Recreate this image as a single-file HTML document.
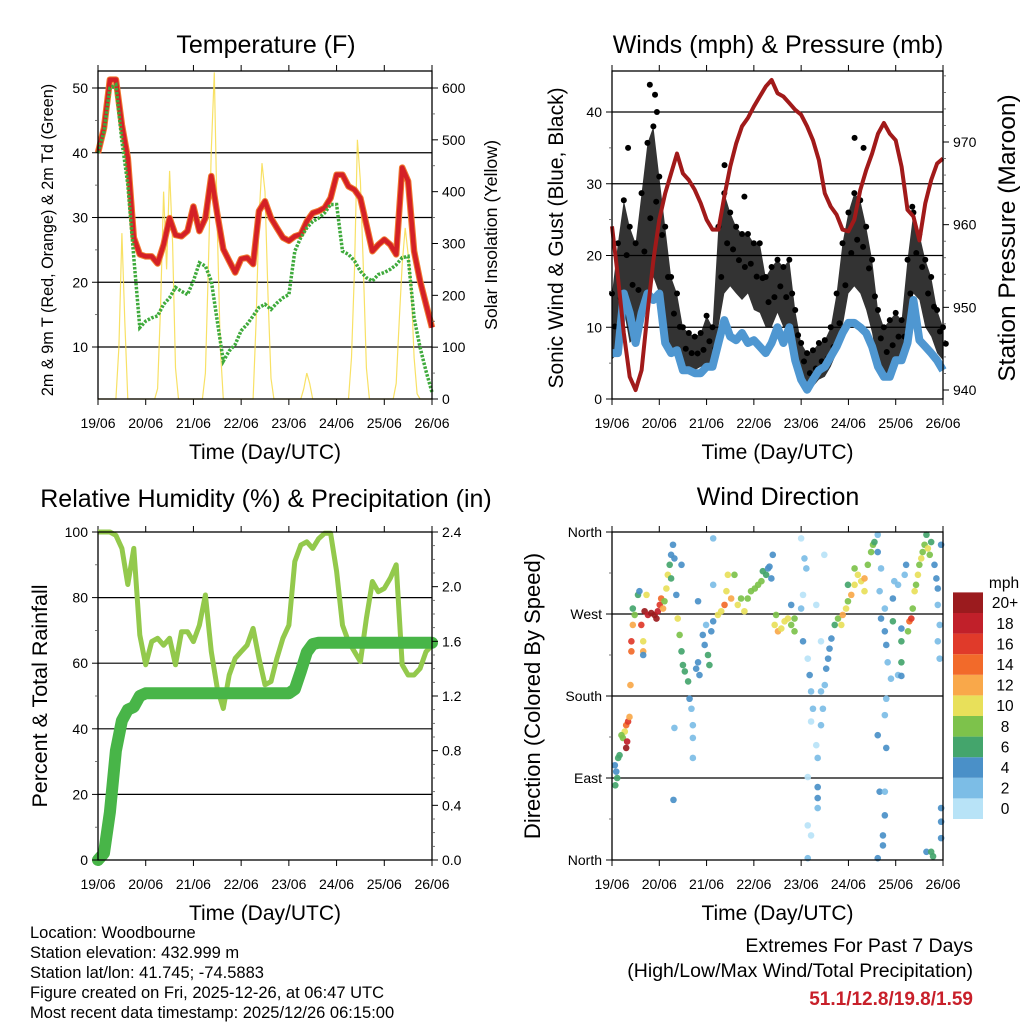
<!DOCTYPE html>
<html><head><meta charset="utf-8"><style>
html,body{margin:0;padding:0;background:#fff;}
svg{display:block;font-family:"Liberation Sans",Arial,sans-serif;}
</style></head><body>
<svg id="c" width="1024" height="1024" viewBox="0 0 1024 1024" xmlns="http://www.w3.org/2000/svg"></svg>
<script>
// ---------- data ----------
var dayLabels = ["19/06","20/06","21/06","22/06","23/06","24/06","25/06","26/06"];
// temperature (F), every 3 h
var tempT = [40,43.8,51.3,51.3,44.3,39.2,26.9,24.3,24,24,22.9,25.8,29.9,27.3,27.1,27.9,31.7,27.9,29.9,36.4,30.5,25.1,23.3,21.5,23.6,23.8,22.8,31,32.5,29.9,28.4,26.9,26.4,27.1,27.4,29.4,30.7,31,31.5,33,36.6,36.6,34.8,34.3,33,28.9,24.8,25.8,26.6,25.8,24.3,37.7,35.6,24.8,20.2,16.6,13];
var tempTd = [40,43.3,50,50.5,41.8,35.1,23.8,13,14,14.5,14.8,16.6,17.6,19.2,18.6,18.1,20.2,23,22.5,20.2,14,7.8,9.4,10.4,12.5,13.5,14.8,16.1,16.6,15.8,16.8,17.6,18.1,24.8,26.9,28.4,29.4,29.9,30.7,32,32,24.8,24.3,23.3,21.7,20.7,20.2,21.2,21.5,22,22.7,23.8,24,14.5,9.9,6.3,3];
// solar insolation, every 1.5 h
var solar = [0,0,0,0,0,0,0,100,320,150,0,0,0,0,0,0,0,0,0,0,20,180,400,250,440,300,60,0,0,0,0,0,0,0,0,0,50,250,480,630,330,100,0,0,0,0,0,0,0,0,0,0,0,150,350,455,400,200,40,0,0,0,0,0,0,0,0,0,0,20,50,30,0,0,0,0,0,0,0,0,0,0,0,0,0,80,250,500,420,250,60,0,0,0,0,0,0,0,0,0,30,150,260,330,280,220,80,10,0,0,0,0,0];
// winds, every 3 h
var pressure = [959.8,953.7,946.9,941.6,940,942.4,949.3,955.7,960.6,963.8,966.2,968.6,966.2,965.4,964.2,962.6,960.6,959.4,959.4,963.4,967,969.8,971.9,972.9,974.3,975.5,976.7,977.5,975.9,975.5,974.7,973.9,973.3,971.9,970.2,967.8,963.8,962.2,961.2,959.4,959.2,960.6,964.2,966.6,968.6,971,972.3,971,970.2,967,961.8,961,958.1,962.6,965.4,967.4,968];
var sonic = [6.4,6.4,14.7,12,7.8,12,14.7,13.8,14.7,7.8,6.4,6.8,4,4,3.6,3.6,4.5,4.5,7.8,11,8.7,8.2,9.2,7.8,8.2,7.3,6.4,7.8,10,7.8,10,5.4,2.7,1.3,2.7,4,4.5,5.9,7.3,9.2,10.6,10.6,10,9.2,7.3,4.5,3.1,3.1,5.4,5.4,7.8,13.8,8.2,7.3,6.4,5.4,4];
var gustLo = [5.5,6.4,12.4,7.8,8.7,12.4,14.7,17,14.7,10,6.8,5.4,4,3.6,4,4.5,4.5,4,10,14.7,15.7,14.7,13.8,14.7,12.4,12,10,10,12,10,10,5.4,2.7,0.8,1.7,2.7,3.1,4.5,6.4,10,14.7,15.7,14.7,12.4,9.2,4.5,3.1,4,5.4,6.4,10,14.7,13.8,10,8.7,6.4,5.4];
var gustHi = [14.7,21.7,27.7,24,21.7,28.7,35.7,38,31,24,17,14.7,10,9.2,8.7,9.2,11.6,10,24,28.7,26,24,23,23,21.7,21.7,17,18.4,19.4,18.4,19.4,12.4,7.8,6.4,6.8,7.8,8.2,10,14.7,21.7,26,28.7,27.7,24,19.4,12.4,10,11,12,11,19.4,26,23,19.4,17,12.4,10];
var gustPeakDay = [0.80,0.91,0.95,0.34,2.38,2.80,5.13,5.32,6.35];
var gustPeakVal = [43.8,42.4,40,35,32.6,28.2,36.4,35,26.8];
// humidity & precipitation, every 3 h
var rh = [100,100,100,99,95,84,95,68.6,59.5,66.6,67.6,65.5,67.6,59.5,69.6,69.6,66.6,71.6,80.8,63.5,52.3,46.2,56.4,61.5,63.5,65.5,70.6,61.5,53.4,54.4,61.5,67.6,71.6,91,96,97,95,98,99.6,99.6,88,71.6,66.6,63.5,60.5,73.7,84.9,81.8,82.8,85.9,90,59.5,56.4,56.4,58.4,63.5,65.5];
var precip = [0,0.05,0.35,0.8,1.02,1.1,1.12,1.2,1.22,1.22,1.22,1.22,1.22,1.22,1.22,1.22,1.22,1.22,1.22,1.22,1.22,1.22,1.22,1.22,1.22,1.22,1.22,1.22,1.22,1.22,1.22,1.22,1.22,1.25,1.38,1.52,1.58,1.59,1.59,1.59,1.59,1.59,1.59,1.59,1.59,1.59,1.59,1.59,1.59,1.59,1.59,1.59,1.59,1.59,1.59,1.59,1.59];
// wind direction scatter
var dirDay = [0.06,0.09,0.11,0.07,0.13,0.16,0.23,0.27,0.30,0.34,0.37,0.32,0.30,0.20,0.39,0.41,0.41,0.44,0.48,0.44,0.55,0.58,0.66,0.66,0.62,0.69,0.66,0.73,0.76,0.83,0.90,0.97,1.01,1.04,1.08,0.94,1.11,1.15,1.18,1.22,1.25,1.29,1.32,1.25,1.47,1.36,1.39,1.43,1.47,1.50,1.54,1.61,1.64,1.68,1.71,1.71,1.71,1.78,1.82,1.85,1.92,1.96,2.03,2.06,2.10,2.14,1.32,1.30,1.82,1.99,2.14,2.14,2.24,2.31,2.38,2.42,2.45,2.52,2.59,2.66,2.73,2.80,2.87,2.94,3.02,3.09,3.16,3.19,3.26,3.30,3.33,3.37,3.40,3.44,3.51,3.58,3.65,3.72,3.79,3.86,3.47,3.79,3.86,4.0,4.07,4.11,4.04,4.0,4.04,4.14,4.18,4.21,4.25,4.21,4.32,4.35,4.35,4.35,4.35,4.14,4.14,4.21,4.14,4.42,4.49,4.32,4.42,4.46,4.42,4.50,4.53,4.57,4.60,4.64,4.71,4.78,4.85,4.88,4.95,4.99,5.06,5.13,5.20,5.27,5.34,5.34,5.41,5.48,5.52,5.55,5.13,4.99,5.62,5.62,5.69,5.66,5.77,5.69,5.77,5.80,5.83,5.90,5.80,5.77,5.62,5.80,5.66,5.77,5.77,5.73,5.73,5.62,5.94,5.94,6.12,6.12,6.12,6.05,6.12,5.97,6.05,6.19,6.22,6.26,6.29,6.33,6.36,6.40,6.43,6.47,6.50,6.54,6.57,6.61,6.65,6.68,6.72,6.75,6.82,6.86,6.89,6.89,6.93,6.89,6.93,6.96,6.96,6.96,6.96,6.65,6.75,6.79];
var dirDeg = [104,97,90,82,112,115,134,141,148,152,157,130,123,137,192,229,240,258,269,276,291,295,229,240,258,273,225,291,269,271,269,273,280,287,276,265,284,298,313,324,335,346,331,309,324,291,265,247,229,214,207,196,177,166,148,134,112,210,217,203,247,236,225,214,251,262,145,66,284,258,353,302,269,273,280,295,313,287,313,280,287,273,287,295,298,302,306,317,313,320,322,309,335,258,251,254,262,265,258,251,269,280,265,353,331,320,291,276,240,221,203,185,166,152,126,112,80,68,57,91,38,27,2,240,335,280,148,166,185,192,210,221,232,243,258,265,258,269,276,284,291,302,313,306,309,295,324,338,346,349,320,302,357,338,320,295,276,265,251,236,217,199,177,159,137,123,75,75,49,27,16,2,262,287,254,240,217,203,202,306,302,313,324,251,262,265,276,295,302,313,324,331,338,346,357,342,335,349,324,309,298,280,258,240,221,346,57,42,24,9,9,4];
var dirSpd = [5,4,6,6,6,6,8,10,14,16,12,18,20,8,12,14,16,12,8,6,6,4,12,10,16,20,4,10,18,20,20,18,16,14,12,20,8,10,10,6,4,4,4,6,4,4,10,8,6,6,6,6,4,2,2,2,2,4,4,4,4,4,6,6,4,4,2,4,4,2,2,2,10,10,14,10,10,12,8,10,8,10,8,8,8,8,8,6,6,4,4,4,4,10,12,10,10,10,8,8,8,4,8,0,2,2,0,2,4,0,4,2,2,0,0,2,4,4,2,0,0,0,2,0,0,0,2,2,2,2,4,4,4,4,6,8,10,12,10,8,12,10,10,10,12,10,8,8,8,6,8,6,2,4,2,2,2,4,4,4,2,2,2,2,4,4,4,2,4,4,4,4,6,4,4,6,6,2,4,2,2,2,4,8,14,16,8,10,8,10,8,10,8,8,6,10,8,6,4,4,4,2,2,2,2,4,4,4,4,4,6,6];
var speedLevels = ["0","2","4","6","8","10","12","14","16","18","20+"];
var speedColors = ["#b8e3f7","#7cbde6","#4a90c8","#44a56c","#7dc24b","#e8e05a","#f9a84a","#f26a2a","#e03a2a","#c1202a","#9b1b1e"];

// ---------- helpers ----------
var NS="http://www.w3.org/2000/svg";
var svg=document.getElementById('c');
function el(tag,attrs,parent,text){var e=document.createElementNS(NS,tag);for(var k in attrs)e.setAttribute(k,attrs[k]);if(text!==undefined)e.textContent=text;(parent||svg).appendChild(e);return e;}
function lin(d0,d1,r0,r1){return function(v){return r0+(v-d0)/(d1-d0)*(r1-r0);};}
function txt(x,y,s,size,anchor,name,parent,extra){var t=el('text',{x:x,y:y,'font-size':size,'text-anchor':anchor||'middle',fill:'#000'},parent,s);if(extra)for(var k in extra)t.setAttribute(k,extra[k]);return t;}
function vtxt(x,y,s,size,name,parent){var t=el('text',{x:0,y:0,'font-size':size,'text-anchor':'middle',fill:'#000',transform:'translate('+x+','+y+') rotate(-90)'},parent,s);return t;}
function path(pts){return pts.map(function(p,i){return (i?'L':'M')+p[0].toFixed(1)+' '+p[1].toFixed(1);}).join(' ');}

function panel(o){
  var g=el('g',{});
  var x=lin(0,7,o.x0,o.x1);
  o.grid.forEach(function(v){var y=o.yl(v);var l=el('line',{x1:o.x0,x2:o.x1,y1:y,y2:y,stroke:'#000','stroke-width':1.2},g);});
  for(var d=0;d<=7;d++){var xx=x(d);
    el('line',{x1:xx,x2:xx,y1:o.y1,y2:o.y1+6,stroke:'#000','stroke-width':1},g);
    el('line',{x1:xx,x2:xx,y1:o.y0,y2:o.y0-6,stroke:'#000','stroke-width':1},g);
    txt(xx,o.y1+29,dayLabels[d],14,'middle','x-tick-label',g);}
  txt((o.x0+o.x1)/2,o.y1+60,'Time (Day/UTC)',21,'middle','x-axis-title',g);
  return {g:g,x:x};
}
function frame(g,o){var r=el('rect',{x:o.x0,y:o.y0,width:o.x1-o.x0,height:o.y1-o.y0,fill:'none',stroke:'#000','stroke-width':1.3},g);}
function yticks(g,scale,vals,labels,xpos,side,size,minor){
  vals.forEach(function(v,i){var y=scale(v);var dx=side<0?-6:6;
    el('line',{x1:xpos,x2:xpos+dx,y1:y,y2:y,stroke:'#000','stroke-width':1},g);
    txt(xpos+(side<0?-10:10),y+5,labels[i],size,side<0?'end':'start','y-tick-label',g);});
  (minor||[]).forEach(function(v){var y=scale(v);el('line',{x1:xpos,x2:xpos+(side<0?-3:3),y1:y,y2:y,stroke:'#555','stroke-width':0.8},g);});
}

// ========== Panel 1: Temperature ==========
(function(){
  var o={name:'temperature-panel',x0:98,x1:432,y0:71,y1:399};
  o.yl=lin(10,50,347,88);o.grid=[10,20,30,40,50];
  var P=panel(o),g=P.g,x=P.x,yr=lin(0,600,399,88);
  txt(266,53,'Temperature (F)',25,'middle','chart-title',g);
  var sp=solar.map(function(v,i){return [x(i*1.5/24),yr(v)];});
  var s=el('path',{d:path(sp),fill:'none',stroke:'#f7dc4a','stroke-width':1.2,opacity:0.85},g);
  var tp=tempT.map(function(v,i){return [x(i/8),o.yl(v)];});
  var t1=el('path',{d:path(tp),fill:'none',stroke:'#f07a30','stroke-width':6.5,'stroke-linejoin':'round'},g);
  var t2=el('path',{d:path(tp),fill:'none',stroke:'#d42026','stroke-width':4.5,'stroke-linejoin':'round'},g);
  var dp=tempTd.map(function(v,i){return [x(i/8),o.yl(v)];});
  var d1=el('path',{d:path(dp),fill:'none',stroke:'#3faa3c','stroke-width':3.5,'stroke-dasharray':'2.5 1.5'},g);
  frame(g,o);
  yticks(g,o.yl,[10,20,30,40,50],['10','20','30','40','50'],98,-1,14,[15,25,35,45]);
  yticks(g,yr,[0,100,200,300,400,500,600],['0','100','200','300','400','500','600'],432,1,14,[50,150,250,350,450,550]);
  vtxt(53,240,'2m & 9m T (Red, Orange) & 2m Td (Green)',16.2,'y-axis-title-left',g);
  vtxt(497,235,'Solar Insolation (Yellow)',17.8,'y-axis-title-right',g);
})();

// ========== Panel 2: Winds ==========
(function(){
  var o={name:'winds-panel',x0:612,x1:943,y0:71,y1:399};
  o.yl=lin(0,40,399,112);o.grid=[10,20,30,40];
  var P=panel(o),g=P.g,x=P.x,yr=lin(940,970,390,142);
  txt(778,53,'Winds (mph) & Pressure (mb)',25,'middle','chart-title',g);
  var top=gustHi.map(function(v,i){return [x(i/8),o.yl(v)];});
  var bot=gustLo.map(function(v,i){return [x(i/8),o.yl(v)];}).reverse();
  var band=el('path',{d:path(top.concat(bot))+' Z',fill:'#000',opacity:0.8},g);
  gustHi.forEach(function(v,i){var c=el('circle',{cx:x(i/8),cy:o.yl(v),r:3,fill:'#000'},g);});
  gustHi.forEach(function(v,i){var c=el('circle',{cx:x(i/8+0.06),cy:o.yl((v+gustLo[i])/2),r:3,fill:'#000'},g);});
  gustPeakDay.forEach(function(d,i){var c=el('circle',{cx:x(d),cy:o.yl(gustPeakVal[i]),r:3,fill:'#000'},g);});
  var bp=sonic.map(function(v,i){return [x(i/8),o.yl(v)];});
  var b=el('path',{d:path(bp),fill:'none',stroke:'#4f97d1','stroke-width':8,'stroke-linejoin':'round'},g);
  var pp=pressure.map(function(v,i){return [x(i/8),yr(v)];});
  var p=el('path',{d:path(pp),fill:'none',stroke:'#a11a1a','stroke-width':4,'stroke-linejoin':'round'},g);
  frame(g,o);
  yticks(g,o.yl,[0,10,20,30,40],['0','10','20','30','40'],612,-1,14,[5,15,25,35]);
  yticks(g,yr,[940,950,960,970],['940','950','960','970'],943,1,14,[942,944,946,948,952,954,956,958,962,964,966,968,972,974,976,978]);
  vtxt(563,238,'Sonic Wind & Gust (Blue, Black)',21,'y-axis-title-left',g);
  vtxt(1015,238,'Station Pressure (Maroon)',24.5,'y-axis-title-right',g);
})();

// ========== Panel 3: RH & precipitation ==========
(function(){
  var o={name:'humidity-panel',x0:98,x1:432,y0:532,y1:860};
  o.yl=lin(0,100,860,532);o.grid=[20,40,60,80];
  var P=panel(o),g=P.g,x=P.x,yr=lin(0,2.4,860,532);
  txt(266,507,'Relative Humidity (%) & Precipitation (in)',25,'middle','chart-title',g);
  var rp=rh.map(function(v,i){return [x(i/8),o.yl(v)];});
  var r=el('path',{d:path(rp),fill:'none',stroke:'#93c94c','stroke-width':5,'stroke-linejoin':'round'},g);
  var pp=precip.map(function(v,i){return [x(i/8),yr(v)];});
  var p=el('path',{d:path(pp),fill:'none',stroke:'#48b548','stroke-width':12,'stroke-linejoin':'round','stroke-linecap':'round'},g);
  frame(g,o);
  yticks(g,o.yl,[0,20,40,60,80,100],['0','20','40','60','80','100'],98,-1,14,[10,30,50,70,90]);
  yticks(g,yr,[0,0.4,0.8,1.2,1.6,2.0,2.4],['0.0','0.4','0.8','1.2','1.6','2.0','2.4'],432,1,14,[0.1,0.2,0.3,0.5,0.6,0.7,0.9,1.0,1.1,1.3,1.4,1.5,1.7,1.8,1.9,2.1,2.2,2.3]);
  vtxt(47,696,'Percent & Total Rainfall',21.5,'y-axis-title-left',g);
})();

// ========== Panel 4: Wind direction ==========
(function(){
  var o={name:'wind-direction-panel',x0:612,x1:943,y0:532,y1:860};
  o.yl=lin(0,360,860,532);o.grid=[90,180,270];
  var P=panel(o),g=P.g,x=P.x;
  txt(778,505,'Wind Direction',25,'middle','chart-title',g);
  dirDay.forEach(function(d,i){var k=Math.min(10,Math.floor(dirSpd[i]/2));
    var c=el('circle',{cx:x(d),cy:o.yl(dirDeg[i]),r:3.3,fill:speedColors[k],opacity:0.92},g);
    
    });
  frame(g,o);
  yticks(g,o.yl,[0,90,180,270,360],['North','East','South','West','North'],612,-1,14,[45,135,225,315]);
  vtxt(540,696,'Direction (Colored By Speed)',22,'y-axis-title-left',g);
  var cb=el('g',{},g);
  txt(1004,588,'mph',15.5,'middle','colorbar-title',cb);
  var h=20.6;
  speedLevels.forEach(function(l,i){var y=819-(i+1)*h;
    var r=el('rect',{x:953,y:y,width:30,height:h,fill:speedColors[i]},cb);
    txt(1005,y+h/2+5.5,l,15.5,'middle','colorbar-label',cb);});
})();

// ========== footer ==========
(function(){
  var g=el('g',{});
  var lines=['Location: Woodbourne','Station elevation: 432.999 m','Station lat/lon: 41.745; -74.5883','Figure created on Fri, 2025-12-26, at 06:47 UTC','Most recent data timestamp: 2025/12/26 06:15:00'];
  lines.forEach(function(s,i){txt(30,938+i*20,s,16.5,'start','station-info-line',g);});
  var g2=el('g',{});
  txt(973,952,'Extremes For Past 7 Days',19.5,'end','extremes-title',g2);
  txt(973,977,'(High/Low/Max Wind/Total Precipitation)',19.5,'end','extremes-subtitle',g2);
  txt(973,1005,'51.1/12.8/19.8/1.59',19,'end','extremes-values',g2,{fill:'#c8202a','font-weight':'bold'});
})();
</script>
</body></html>
